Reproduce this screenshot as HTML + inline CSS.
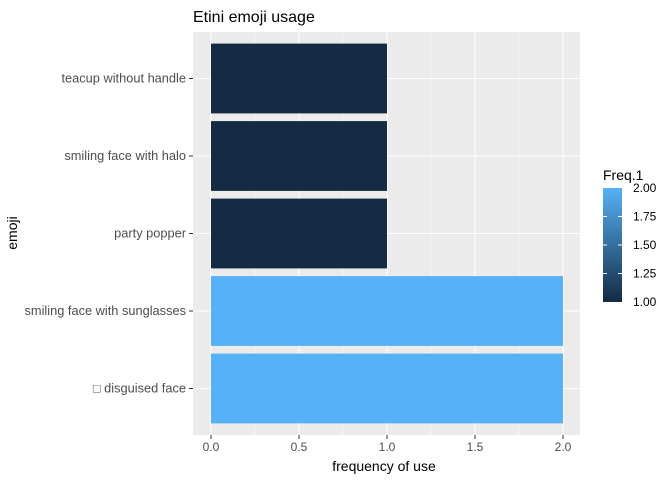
<!DOCTYPE html>
<html><head><meta charset="utf-8"><style>
body{margin:0;background:#fff;font-family:"Liberation Sans","Noto Sans CJK JP",sans-serif;}
</style></head><body>
<svg id="c" width="672" height="480" xmlns="http://www.w3.org/2000/svg">
<defs><linearGradient id="g" x1="0" y1="1" x2="0" y2="0">
<stop offset="0" stop-color="#132B43"/><stop offset="1" stop-color="#56B1F7"/></linearGradient></defs>
<text x="193" y="22" font-size="16" fill="#000">Etini emoji usage</text>
<rect x="193" y="32" width="387" height="403" fill="#EBEBEB"/>
<g id="grid"></g><g id="bars"></g><g id="axes"></g>
<text x="384" y="471" font-size="14" text-anchor="middle" fill="#000">frequency of use</text>
<text transform="translate(17,233) rotate(-90)" font-size="14" text-anchor="middle" fill="#000">emoji</text>
<text x="603" y="180" font-size="14" fill="#000">Freq.1</text>
<rect x="603" y="188" width="19" height="114" fill="url(#g)"/>
<g id="leg"></g>
</svg>
<script>
const categories=["\u25A1 disguised face","smiling face with sunglasses","party popper","smiling face with halo","teacup without handle"];
const values=[2,2,1,1,1];
const xTicks=[0,0.5,1,1.5,2];
const xTickLabels=["0.0","0.5","1.0","1.5","2.0"];
const legTicks=[1,1.25,1.5,1.75,2];
const legTickLabels=["1.00","1.25","1.50","1.75","2.00"];
const NS="http://www.w3.org/2000/svg";
const x=v=>211+v*176;
const y=i=>388.5-i*77.5;
const cy=v=>302-(v-1)*114;
function col(v){const t=(v-1);const a=[0x13,0x2B,0x43],b=[0x56,0xB1,0xF7];return "rgb("+a.map((c,k)=>Math.round(c+(b[k]-c)*t)).join(",")+")";}
function mk(tag,attrs,parent){const e=document.createElementNS(NS,tag);for(const k in attrs)e.setAttribute(k,attrs[k]);document.getElementById(parent).appendChild(e);return e;}
for(let k=0;k<xTicks.length-1;k++){const m=mk("line",{x1:x((xTicks[k]+xTicks[k+1])/2),x2:x((xTicks[k]+xTicks[k+1])/2),y1:32,y2:435,stroke:"#fff","stroke-width":0.5},"grid");

}
xTicks.forEach((t,k)=>{const g=mk("line",{x1:x(t),x2:x(t),y1:32,y2:435,stroke:"#fff","stroke-width":1.1},"grid");


const tk=mk("line",{x1:x(t),x2:x(t),y1:435,y2:439,stroke:"#333"},"axes");


const l=mk("text",{x:x(t),y:451,"font-size":12,"text-anchor":"middle",fill:"#4D4D4D"},"axes");l.textContent=xTickLabels[k];

});
categories.forEach((c,i)=>{const g=mk("line",{x1:193,x2:580,y1:y(i),y2:y(i),stroke:"#fff","stroke-width":1.1},"grid");


const b=mk("rect",{x:x(0),y:y(i)-34.9,width:x(values[i])-x(0),height:69.8,fill:col(values[i])},"bars");


const tk=mk("line",{x1:189,x2:193,y1:y(i),y2:y(i),stroke:"#333"},"axes");


const l=mk("text",{x:186,y:y(i)+4,"font-size":12.8,"text-anchor":"end",fill:"#4D4D4D"},"axes");l.textContent=c;

});
legTicks.forEach((t,k)=>{if(k>0&&k<legTicks.length-1){const a=mk("line",{x1:603,x2:607,y1:cy(t),y2:cy(t),stroke:"#fff"},"leg");


const b=mk("line",{x1:618,x2:622,y1:cy(t),y2:cy(t),stroke:"#fff"},"leg");

}
const l=mk("text",{x:633,y:cy(t)+4,"font-size":12,fill:"#000"},"leg");l.textContent=legTickLabels[k];

});
</script>
</body></html>
